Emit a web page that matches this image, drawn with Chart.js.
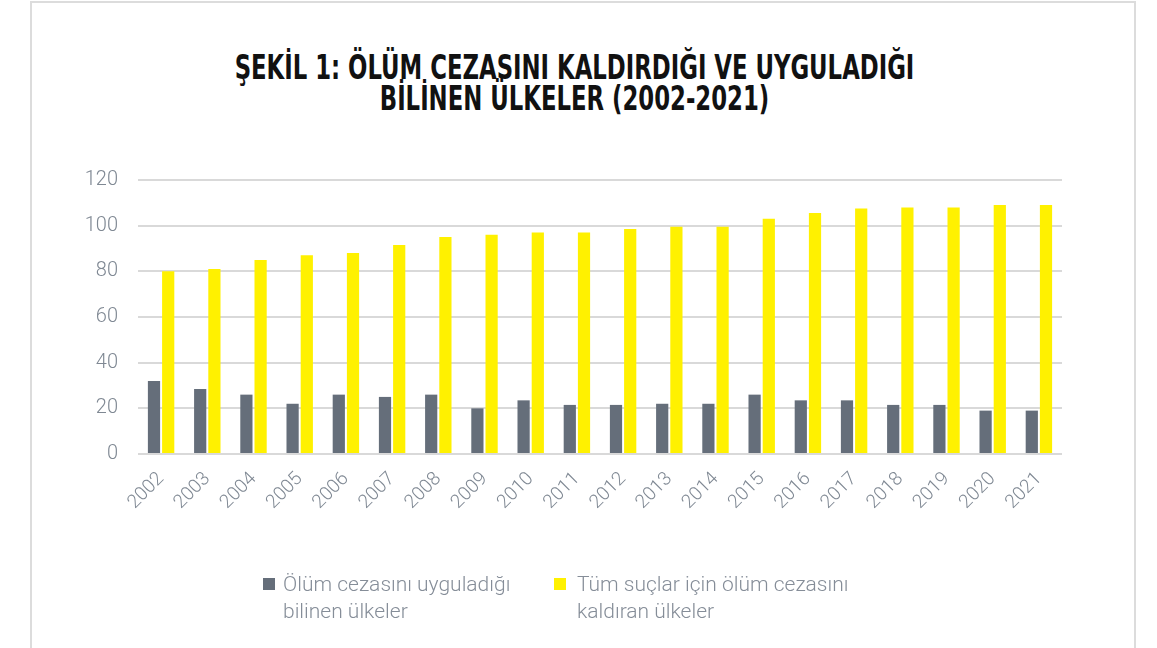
<!DOCTYPE html>
<html>
<head>
<meta charset="utf-8">
<script src="https://cdn.jsdelivr.net/npm/chart.js@4.4.1/dist/chart.umd.min.js"></script>
<style>
  html, body { margin: 0; padding: 0; background: #fff; width: 1157px; height: 648px; overflow: hidden; }
  #frame { position: absolute; left: 30px; top: 1px; width: 1106px; height: 720px; border: 2px solid #dcdcdc; box-sizing: border-box; }
  #title { position: absolute; left: -4px; top: 52px; width: 1157px; text-align: center;
    font-family: "DejaVu Sans Condensed", "DejaVu Sans", sans-serif; font-weight: bold;
    font-size: 34px; line-height: 31px; color: #111; transform: scaleX(0.745); transform-origin: 50% 0; }
  #chart { position: absolute; left: 0; top: 0; }
  .leg { position: absolute; top: 571px; font-family: Roboto, "Liberation Sans", sans-serif; font-weight: 300;
    font-size: 21px; line-height: 27px; color: #858d98; }
  .sw { position: absolute; width: 12px; height: 12px; }
</style>
</head>
<body>
<div id="frame"></div>
<div id="title">ŞEKİL 1: ÖLÜM CEZASINI KALDIRDIĞI VE UYGULADIĞI<br>BİLİNEN ÜLKELER (2002-2021)</div>
<canvas id="chart" width="1157" height="648"></canvas>
<div class="sw" style="left:263px; top:578px; background:#656e7a;"></div>
<div class="leg" style="left:283px;">Ölüm cezasını uyguladığı<br>bilinen ülkeler</div>
<div class="sw" style="left:554px; top:578px; background:#fff100;"></div>
<div class="leg" style="left:577px;">Tüm suçlar için ölüm cezasını<br>kaldıran ülkeler</div>
<script>
const years = ["2002","2003","2004","2005","2006","2007","2008","2009","2010","2011","2012","2013","2014","2015","2016","2017","2018","2019","2020","2021"];
const executing = [32, 28.5, 26, 22, 26, 25, 26, 20, 23.5, 21.5, 21.5, 22, 22, 26, 23.5, 23.5, 21.5, 21.5, 19, 19];
const abolitionist = [80, 81, 85, 87, 88, 91.5, 95, 96, 97, 97, 98.5, 99.5, 99.5, 103, 105.5, 107.5, 108, 108, 109, 109];
const seriesNames = ["Ölüm cezasını uyguladığı bilinen ülkeler", "Tüm suçlar için ölüm cezasını kaldıran ülkeler"];

const tickFont = { family: "Roboto, 'Liberation Sans', sans-serif", size: 20, weight: 300 };
new Chart(document.getElementById('chart'), {
  type: 'bar',
  data: {
    labels: years,
    datasets: [
      { label: seriesNames[0], data: executing, backgroundColor: '#656e7a', categoryPercentage: 0.615, barPercentage: 0.86 },
      { label: seriesNames[1], data: abolitionist, backgroundColor: '#fff100', categoryPercentage: 0.615, barPercentage: 0.86 }
    ]
  },
  options: {
    responsive: false,
    animation: false,
    devicePixelRatio: 1,
    layout: { padding: { left: 78, right: 95, top: 180, bottom: 124 } },
    plugins: { legend: { display: false }, title: { display: false }, tooltip: { enabled: false } },
    scales: {
      x: {
        grid: { display: false, drawTicks: false },
        border: { display: false },
        ticks: { color: '#7f8893', font: { ...tickFont, size: 19 }, maxRotation: 45, minRotation: 45, padding: 14, autoSkip: false },
        afterFit: s => { s.height = 70; }
      },
      y: {
        min: 0, max: 120,
        grid: { color: '#d9d9d9', lineWidth: 2, drawTicks: false },
        border: { display: false },
        ticks: { stepSize: 20, color: '#7f8893', font: tickFont, padding: 20 },
        afterFit: s => { s.width = 60; }
      }
    }
  }
});
</script>
</body>
</html>
